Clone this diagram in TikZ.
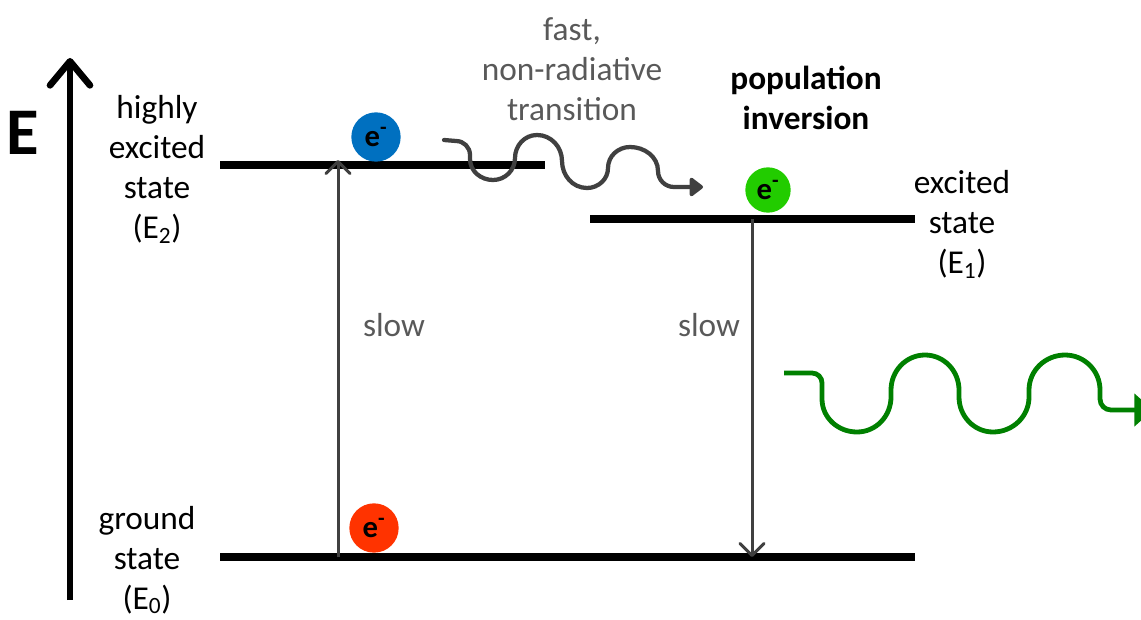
\documentclass[tikz,border=0pt]{standalone}
\usepackage{fontspec}
\setmainfont{Carlito}
\usetikzlibrary{arrows.meta}
\definecolor{arrowgray}{HTML}{404040}
\definecolor{textgray}{HTML}{595959}
\definecolor{eblue}{HTML}{0070C0}
\definecolor{egreen}{HTML}{22CC00}
\definecolor{ered}{HTML}{FF3300}
\definecolor{photon}{HTML}{008000}

\tikzset{
  level/.style={line width=6pt},
  electron/.style={circle, inner sep=0pt, minimum size=37pt,
    font=\bfseries\fontsize{23}{26}\selectfont},
  statelabel/.style={align=center, font=\fontsize{25}{30}\selectfont},
  transition/.style={draw=arrowgray, line width=2.25pt,
    -{Straight Barb[length=9pt,width=18pt,round]}},
}

\begin{document}
\begin{tikzpicture}[x=0.75pt,y=0.75pt]
\useasboundingbox (0,0) rectangle (1141,619);
% energy axis
\coordinate (axisfoot) at (70,19);
\coordinate (axistop) at (70,561);
\draw[line width=5pt, -{Straight Barb[length=18pt,width=30pt,round]}] (axisfoot) -- (axistop);
\node[font=\bfseries\fontsize{50}{52}\selectfont] (axisname) at (23,486) {E};

% levels
\coordinate (E2l) at (220,454);
\coordinate (E2r) at (545,454);
\coordinate (E1l) at (590,400);
\coordinate (E1r) at (915,400);
\coordinate (E0l) at (220,62);
\coordinate (E0r) at (915,62);
\draw[level] (E2l) -- (E2r);
\draw[level] (E1l) -- (E1r);
\draw[level] (E0l) -- (E0r);

\node[statelabel] (lblE2) at (157,450) {highly\\excited\\state\\(E\textsubscript{2})};
\node[statelabel] (lblE1) at (962,395) {excited\\state\\(E\textsubscript{1})};
\node[statelabel] (lblE0) at (147,59) {ground\\state\\(E\textsubscript{0})};

% pumping up and decay down
\coordinate (pumpfoot) at (338,62);
\coordinate (pumptop) at (338,459);
\coordinate (decaytop) at (752,400);
\coordinate (decayfoot) at (752,62);
\draw[transition] (pumpfoot) -- (pumptop);
\draw[transition] (decaytop) -- (decayfoot);
\node[statelabel, text=textgray] (slowup) at (394,294) {slow};
\node[statelabel, text=textgray] (slowdown) at (709,294) {slow};

% electrons
\node[electron, fill=eblue] (eupper) at (376,482) {e\textsuperscript{-}};
\node[electron, fill=egreen, minimum size=34pt] (emid) at (768,429) {e\textsuperscript{-}};
\node[electron, fill=ered] (elower) at (374,91) {e\textsuperscript{-}};

% fast non-radiative step
\coordinate (fastfrom) at (444,479);
\coordinate (fastto) at (703,432);
\draw[arrowgray, line width=3.2pt, line cap=round, -{Triangle[length=11pt,width=16pt,round]}]
  (fastfrom) -- (456,478) to[out=0,in=90] (470,464) -- (470,460)
  to[out=-90,in=180] (493,439) to[out=0,in=-90] (515,461)
  to[out=90,in=180] (537,484) to[out=0,in=90] (562,458)
  to[out=-90,in=180] (587,431) to[out=0,in=-90] (608,451)
  to[out=90,in=180] (630,472) to[out=0,in=90] (658,448)
  to[out=-90,in=180] (674,432) -- (fastto);
\node[statelabel, text=textgray] (fastlbl) at (572,550) {fast,\\non-radiative\\transition};
\node[statelabel, font=\bfseries\fontsize{25}{30}\selectfont] (invlbl) at (806,521) {population\\inversion};

% emitted photon
\coordinate (photonfrom) at (784,246);
\coordinate (photonto) at (1153,209);
\draw[photon, line width=3.6pt, -{Triangle[length=14pt,width=24pt]}]
  (photonfrom) -- (812,246) to[out=0,in=90] (822,236) -- (822,220)
  to[out=-90,in=180] (857,187) to[out=0,in=-90] (891,222) -- (891,229)
  to[out=90,in=180] (925,264) to[out=0,in=90] (959,229) -- (959,222)
  to[out=-90,in=180] (993,187) to[out=0,in=-90] (1029,222) -- (1029,229)
  to[out=90,in=180] (1065,264) to[out=0,in=90] (1100,229) -- (1100,220)
  to[out=-90,in=180] (1111,209) -- (photonto);
\end{tikzpicture}
\end{document}
